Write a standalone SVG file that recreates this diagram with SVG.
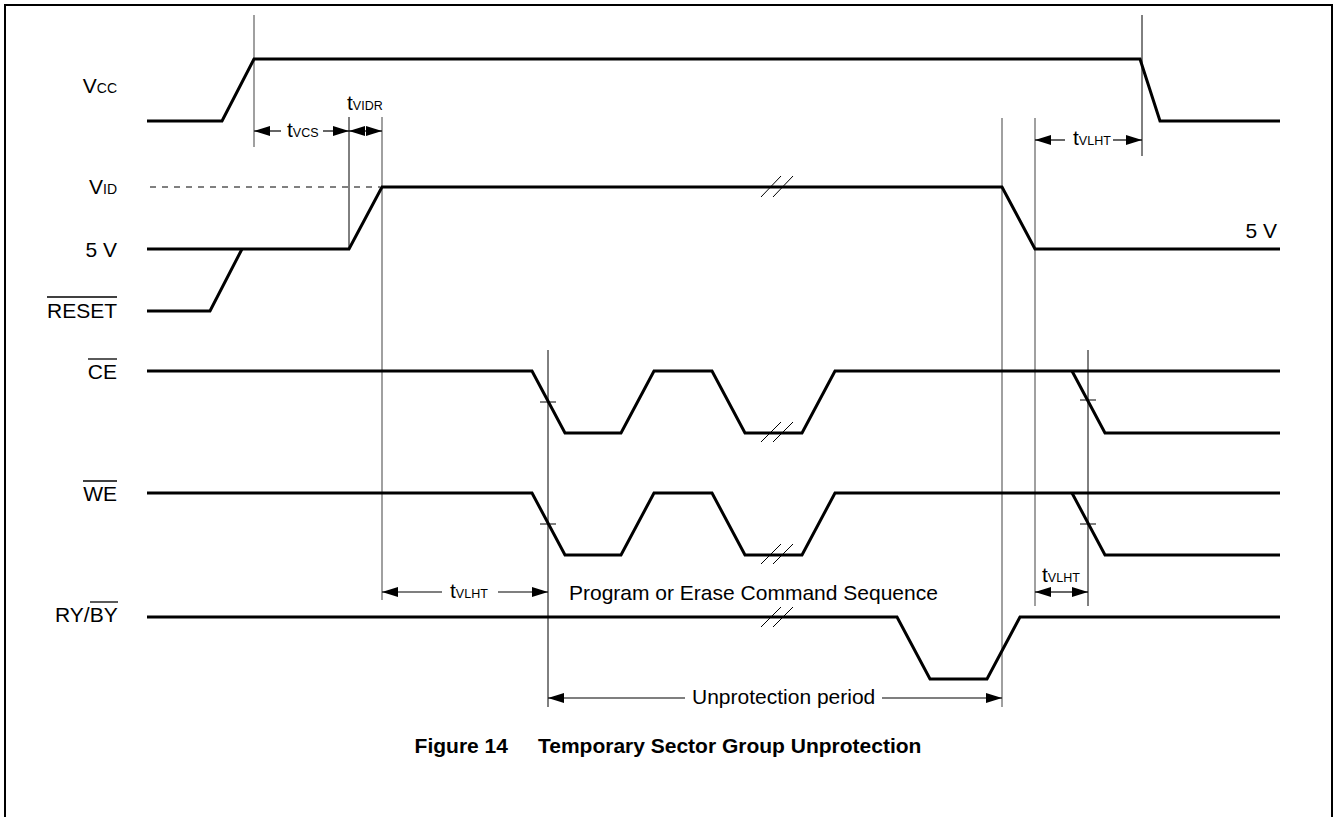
<svg xmlns="http://www.w3.org/2000/svg" width="1336" height="817" viewBox="0 0 1336 817">
<style>
text{font-family:"Liberation Sans",Arial,sans-serif;font-size:21px;fill:#000}
.sv{font-size:14px}
.st{font-size:12.5px}
.sig{fill:none;stroke:#000;stroke-width:3;stroke-linejoin:miter}
.vg{stroke:#808080;stroke-width:1.5}
.vb{stroke:#000;stroke-width:1}
.dim{stroke:#000;stroke-width:1.2;marker-end:url(#ah)}
.brk{stroke:#000;stroke-width:1}
.ol{stroke:#000;stroke-width:1.3}
</style>
<defs>
<marker id="ah" markerUnits="userSpaceOnUse" markerWidth="17" markerHeight="11" refX="16" refY="5" orient="auto"><path d="M0,0 L16,5 L0,10 z" fill="#000"/></marker>
</defs>
<rect width="1336" height="817" fill="#fff"/>
<path d="M5,817 V5 H1332 V817" fill="none" stroke="#000" stroke-width="2"/>

<g id="connectors">
<line class="vg" x1="254" y1="15" x2="254" y2="147"/>
<line class="vb" x1="349" y1="117" x2="349" y2="249"/>
<line class="vg" x1="382" y1="117" x2="382" y2="600"/>
<line class="vb" x1="548" y1="350" x2="548" y2="707"/>
<line class="vg" x1="1002" y1="118" x2="1002" y2="707"/>
<line class="vg" x1="1035" y1="118" x2="1035" y2="606"/>
<line class="vb" x1="1088" y1="350" x2="1088" y2="606"/>
<line class="vb" x1="1142" y1="15" x2="1142" y2="156"/>
<line class="vb" x1="540" y1="402" x2="556" y2="402"/>
<line class="vb" x1="540" y1="524" x2="556" y2="524"/>
<line class="vb" x1="1080" y1="400" x2="1096" y2="400"/>
<line class="vb" x1="1080" y1="524" x2="1096" y2="524"/>
<line x1="150" y1="187" x2="380" y2="187" stroke="#000" stroke-width="1" stroke-dasharray="6,6"/>
<line class="dim" x1="281" y1="131" x2="254" y2="131"/>
<line class="dim" x1="323" y1="131" x2="349" y2="131"/>
<line class="dim" x1="365" y1="131" x2="349" y2="131"/>
<line class="dim" x1="365" y1="131" x2="382" y2="131"/>
<line class="dim" x1="1065" y1="140" x2="1035" y2="140"/>
<line class="dim" x1="1113" y1="140" x2="1142" y2="140"/>
<line class="dim" x1="442" y1="592" x2="382" y2="592"/>
<line class="dim" x1="498" y1="592" x2="548" y2="592"/>
<line class="dim" x1="1062" y1="592" x2="1035" y2="592"/>
<line class="dim" x1="1062" y1="592" x2="1088" y2="592"/>
<line class="dim" x1="685" y1="698" x2="548" y2="698"/>
<line class="dim" x1="882" y1="698" x2="1002" y2="698"/>
<path class="brk" d="M761,197 L781,176 M773,197 L793,176"/>
<path class="brk" d="M761,442 L781,422 M773,442 L793,422"/>
<path class="brk" d="M761,564 L781,544 M773,564 L793,544"/>
<path class="brk" d="M761,627 L781,607 M773,627 L793,607"/>
</g>

<g id="vcc">
<path class="sig" d="M147,121 H222 L254,59 H1140 L1160,121 H1280"/>
<text x="117" y="93" text-anchor="end">V<tspan class="sv">CC</tspan></text>
</g>
<g id="vid">
<path class="sig" d="M147,249 H349 L382,187 H1002 L1035,249 H1280"/>
<text x="117" y="194" text-anchor="end">V<tspan class="sv">ID</tspan></text>
<text x="117" y="257" text-anchor="end">5 V</text>
<text x="1277" y="238" text-anchor="end">5 V</text>
</g>
<g id="reset">
<path class="sig" d="M147,311 H210 L242,249"/>
<text x="117" y="318" text-anchor="end">RESET</text>
<line class="ol" x1="47" y1="297" x2="117" y2="297"/>
</g>
<g id="ce">
<path class="sig" d="M147,371 H532 L565,433 H621 L654,371 H712 L745,433 H802 L835,371 H1280"/>
<path class="sig" d="M1072,371 L1105,433 H1280"/>
<text x="117" y="379" text-anchor="end">CE</text>
<line class="ol" x1="88" y1="359" x2="117" y2="359"/>
</g>
<g id="we">
<path class="sig" d="M147,493 H532 L565,555 H621 L654,493 H712 L745,555 H802 L835,493 H1280"/>
<path class="sig" d="M1072,493 L1105,555 H1280"/>
<text x="117" y="501" text-anchor="end">WE</text>
<line class="ol" x1="83" y1="481" x2="117" y2="481"/>
</g>
<g id="rdy">
<path class="sig" d="M147,617 H897 L930,679 H987 L1020,617 H1280"/>
<text x="55" y="622">RY/BY</text>
<line class="ol" x1="90" y1="602" x2="118" y2="602"/>
</g>
<g id="labels">
<text x="287" y="137">t<tspan class="st">VCS</tspan></text>
<text x="347" y="110">t<tspan class="st">VIDR</tspan></text>
<text x="1073" y="145">t<tspan class="st">VLHT</tspan></text>
<text x="450" y="598">t<tspan class="st">VLHT</tspan></text>
<text x="1042" y="582">t<tspan class="st">VLHT</tspan></text>
<text x="569" y="600">Program or Erase Command Sequence</text>
<text x="692" y="704">Unprotection period</text>
<text x="668" y="753" text-anchor="middle" font-weight="bold">Figure 14<tspan dx="30">Temporary Sector Group Unprotection</tspan></text>
</g>
</svg>
